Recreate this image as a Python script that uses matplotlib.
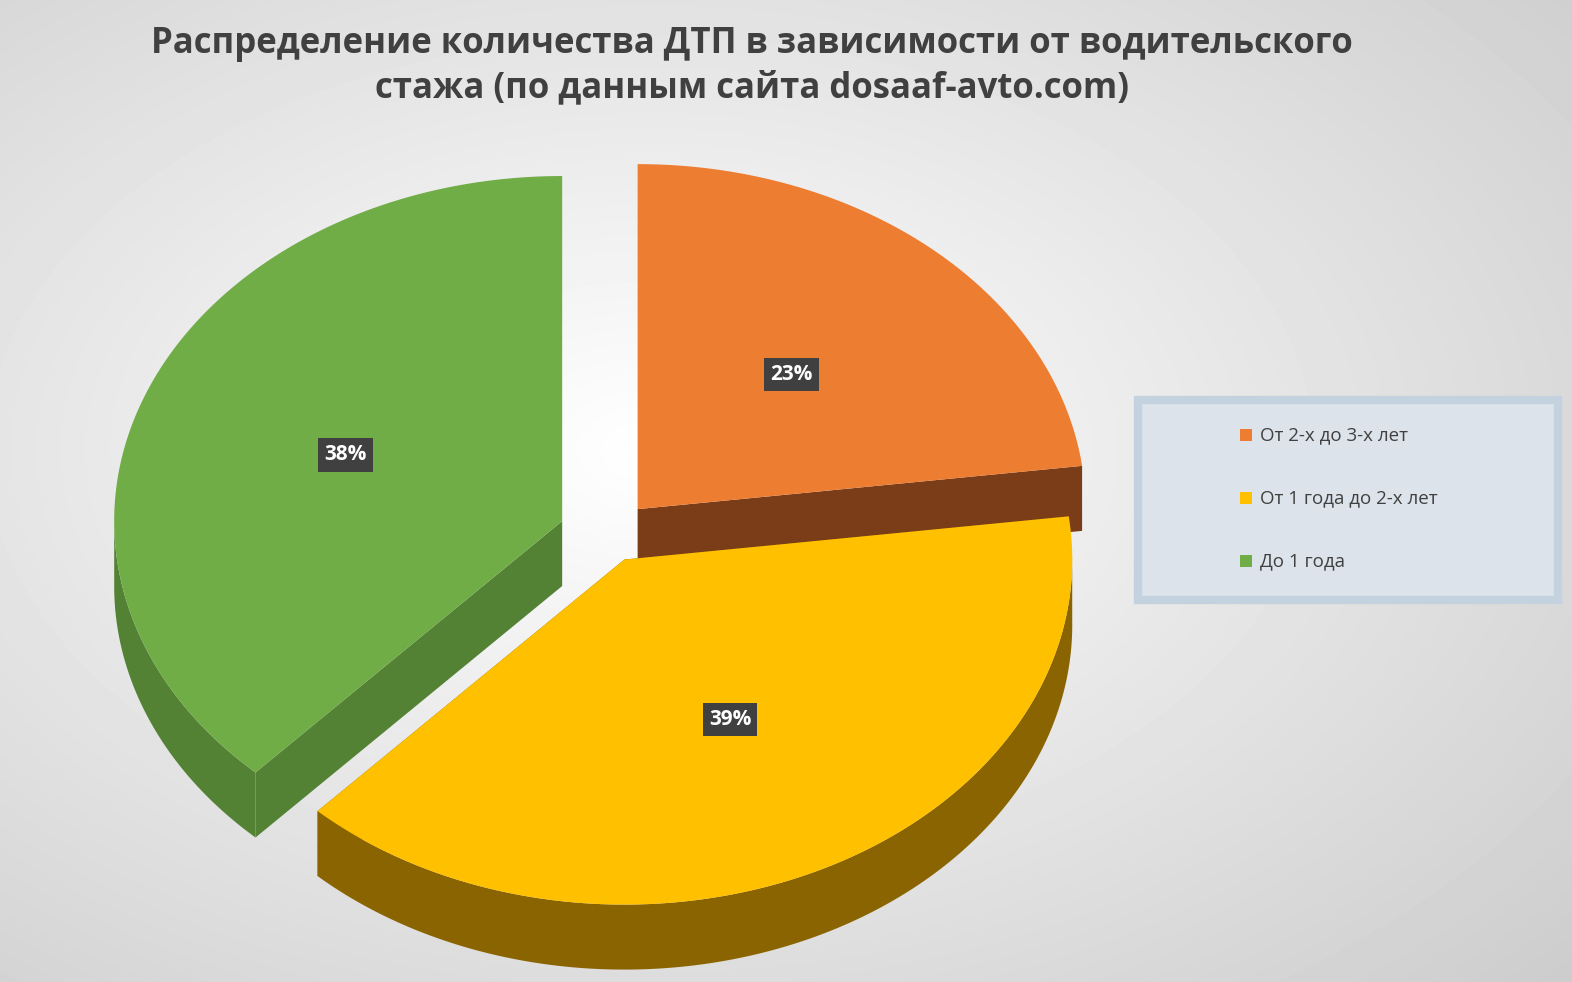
import numpy as np
import matplotlib.pyplot as plt
from matplotlib.patches import Polygon, Rectangle

plt.rcParams['font.family'] = ['Open Sans', 'DejaVu Sans']

labels = ['От 2-х до 3-х лет', 'От 1 года до 2-х лет', 'До 1 года']
values = [23, 39, 38]
top_colors = ['#ED7D31', '#FFC000', '#70AD47']
side_colors = ['#7B3C18', '#8A6400', '#548235']
explode = [0.1, 0.08, 0.11]

W, H = 1572, 982
fig = plt.figure(figsize=(W / 100, H / 100), dpi=100)
ax = fig.add_axes([0, 0, 1, 1])
ax.set_xlim(0, W)
ax.set_ylim(H, 0)
ax.axis('off')

# radial grey background
yy, xx = np.mgrid[0:H, 0:W]
r = np.hypot((xx - 650) / W, (yy - 450) / H)
ax.imshow(1 - 0.25 * np.clip(r, 0, 1), cmap='gray', vmin=0, vmax=1,
          extent=[0, W, H, 0], zorder=0)

cx, cy, rx, ry, depth = 608, 535, 448, 345, 65
fracs = np.array(values) / sum(values)
starts = 90 - 360 * np.concatenate([[0], np.cumsum(fracs)[:-1]])
ends = starts - 360 * fracs

slices = []
for i in range(len(values)):
    mid = np.radians((starts[i] + ends[i]) / 2)
    ax0 = cx + explode[i] * rx * np.cos(mid)
    ay0 = cy - explode[i] * ry * np.sin(mid)
    t = np.radians(np.linspace(starts[i], ends[i], 200))
    px = ax0 + rx * np.cos(t)
    py = ay0 - ry * np.sin(t)
    slices.append((ax0, ay0, t, px, py, mid))

# side faces
for i, (ax0, ay0, t, px, py, mid) in enumerate(slices):
    for k in (0, -1):
        quad = [(ax0, ay0), (px[k], py[k]), (px[k], py[k] + depth), (ax0, ay0 + depth)]
        ax.add_patch(Polygon(quad, closed=True, fc=side_colors[i], ec='none', zorder=2))
    front = np.sin(t) < 0.02
    if front.any():
        fx, fy = px[front], py[front]
        poly = np.column_stack([np.r_[fx, fx[::-1]], np.r_[fy, fy[::-1] + depth]])
        ax.add_patch(Polygon(poly, closed=True, fc=side_colors[i], ec='none', zorder=3))

# tops and labels
for i, (ax0, ay0, t, px, py, mid) in enumerate(slices):
    poly = np.column_stack([np.r_[ax0, px], np.r_[ay0, py]])
    ax.add_patch(Polygon(poly, closed=True, fc=top_colors[i], ec='none', zorder=4))
    lx = ax0 + 0.52 * rx * np.cos(mid)
    ly = ay0 - 0.52 * ry * np.sin(mid)
    ax.text(lx, ly, f'{values[i]}%', ha='center', va='center', fontsize=15,
            fontweight='bold', color='white', zorder=6,
            bbox=dict(boxstyle='square,pad=0.3', fc='#404040', ec='none'))

# title
ax.text(752, 66, 'Распределение количества ДТП в зависимости от водительского\n'
        'стажа (по данным сайта dosaaf-avto.com)', ha='center', va='center',
        fontsize=25, fontweight='bold', color='#404040', linespacing=1.3, zorder=6)

# legend
ax.add_patch(Rectangle((1138, 400), 420, 200, fc='#DCE3EA', ec='#C4D2E0', lw=6, zorder=5))
for i, lab in enumerate(labels):
    y = 435 + i * 63
    ax.add_patch(Rectangle((1240, y - 6), 12, 12, fc=top_colors[i], ec='none', zorder=6))
    ax.text(1260, y, lab, va='center', fontsize=13.5, color='#404040', zorder=6)

fig.savefig('out.png', dpi=100)
